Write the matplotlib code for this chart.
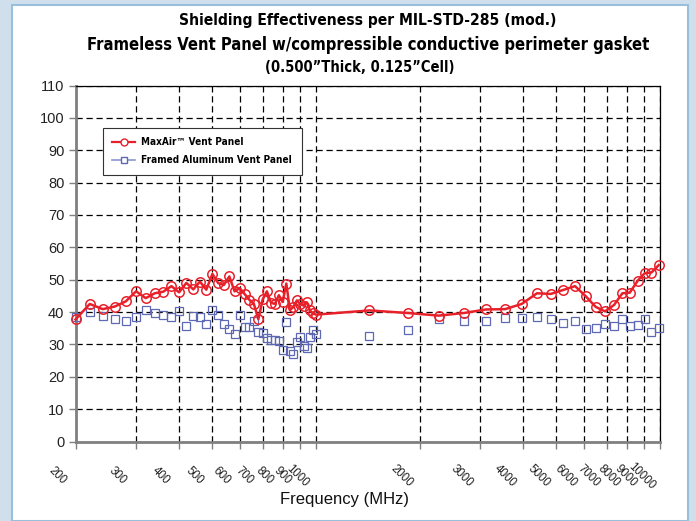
import numpy as np
import matplotlib
matplotlib.use('Agg')
import matplotlib.pyplot as plt
from matplotlib.lines import Line2D
from matplotlib.patches import Rectangle
from matplotlib.ticker import FixedLocator, NullFormatter

plt.rcParams['font.family'] = ['Liberation Sans', 'DejaVu Sans']

# frequencies (MHz)
freq_low = [200, 220, 240, 260, 280, 300, 320, 340, 360, 380, 400, 420, 440, 460,
            480, 500, 520, 540, 560, 580, 600, 620, 640, 660, 680, 700, 720, 740,
            760, 780, 800, 820, 840, 860, 880, 900, 920, 940, 960, 980, 1000]
freq_high = [1430, 1850, 2274, 2690, 3120, 3546, 3963, 4390, 4813, 5224, 5662,
             6082, 6503, 6921, 7354, 7774, 8169, 8616, 9031, 9441, 9915]

maxair_low = [37.7, 42.5, 40.9, 41.7, 43.3, 46.4, 44.3, 45.8, 46.3, 48.0, 46.1,
              49.0, 47.0, 49.4, 46.9, 51.8, 48.9, 48.4, 51.0, 46.4, 47.4, 45.6,
              43.8, 42.5, 37.8, 43.9, 46.4, 42.9, 42.5, 45.2, 43.1, 48.8, 40.6,
              41.6, 43.6, 42.5, 42.0, 43.0, 40.5, 39.6, 39.2]
maxair_high = [40.5, 39.7, 38.9, 39.7, 40.8, 40.9, 42.5, 45.8, 45.6, 46.8, 48.0,
               44.9, 41.6, 40.2, 42.2, 45.8, 46.0, 49.7, 52.0, 52.2, 54.5]

framed_low = [38.4, 40.0, 38.7, 38.0, 37.3, 38.6, 40.5, 39.7, 39.2, 38.4, 40.3,
              35.8, 38.9, 38.4, 36.2, 40.5, 39.2, 36.4, 34.7, 33.2, 39.2, 35.3,
              35.3, 37.2, 33.9, 33.5, 31.9, 31.4, 31.3, 31.0, 28.3, 36.8, 27.9,
              27.1, 30.8, 32.4, 29.5, 28.9, 32.4, 34.3, 33.2]
framed_high = [32.5, 34.3, 37.7, 37.2, 37.2, 38.1, 38.1, 38.6, 37.8, 36.6, 37.1,
               34.9, 35.2, 36.2, 35.7, 37.7, 35.7, 36.0, 37.8, 33.8, 35.2]

freq = freq_low + freq_high
maxair = maxair_low + maxair_high
framed = framed_low + framed_high

grid_freqs = [200, 300, 400, 500, 600, 700, 800, 900, 1000, 2000, 3000, 4000,
              5000, 6000, 7000, 8000, 9000, 10000]
yticks = list(range(0, 111, 10))

red = '#e8202a'
blue = '#5f68b2'

fig = plt.figure(figsize=(6.96, 5.21), dpi=100, facecolor='#cfe0ec')
fig.patches.append(Rectangle((12 / 696, 0), 676 / 696, 1 - 5 / 521,
                             transform=fig.transFigure, facecolor='white',
                             edgecolor='#98c0da', linewidth=1.5, zorder=-5))

ax = fig.add_axes([75.5 / 696, 1 - 441.5 / 521, 584.5 / 696, 356 / 521])
ax.set_zorder(2)
ax.set_facecolor('white')
ax.set_xscale('log')
ax.set_xlim(200, 10000)
ax.set_ylim(0, 110)

ax.plot(freq, maxair, color=red, lw=1.8, marker='o', ms=6.8, mfc='none',
        mec=red, mew=1.1, zorder=4, clip_on=False)
ax.plot(freq, framed, ls='none', marker='s', ms=5.2, mfc='none', mec=blue,
        mew=0.9, zorder=3, clip_on=False)

ax.xaxis.set_major_locator(FixedLocator(grid_freqs))
ax.xaxis.set_minor_locator(FixedLocator([]))
ax.xaxis.set_major_formatter(NullFormatter())
ax.set_yticks(yticks)
ax.tick_params(axis='x', direction='out', length=5, width=1, color='#808080')
ax.tick_params(axis='y', direction='out', length=5, width=1, color='#808080',
               labelsize=10.5, labelcolor='#222222', pad=3)

ax.grid(True, which='major', color='black', linestyle=(0, (5, 3)), lw=0.9)
ax.set_axisbelow(True)

for s in ['left', 'bottom']:
    ax.spines[s].set_color('#808080')
    ax.spines[s].set_linewidth(2)
for s in ['top', 'right']:
    ax.spines[s].set_color('black')
    ax.spines[s].set_linewidth(0.9)

for f in grid_freqs:
    ax.annotate(str(f), xy=(f, 0), xycoords=ax.get_xaxis_transform(),
                xytext=(-13, -25), textcoords='offset points', rotation=-45,
                ha='center', va='center', fontsize=8.3, color='#222222')

ax.text(0.461, -0.162, 'Frequency (MHz)', transform=ax.transAxes, ha='center',
        va='center', fontsize=12, color='#111111')

# condensed bold face for titles and legend
narrow = {'family': 'DejaVu Sans', 'stretch': 'condensed', 'weight': 'bold'}

handles = [Line2D([], [], color=red, lw=1.6, marker='o', ms=5, mfc='white', mec=red),
           Line2D([], [], color='#8c94cc', lw=1.2, marker='s', ms=4, mfc='white', mec=blue)]
leg = ax.legend(handles, ['MaxAir\u2122 Vent Panel', 'Framed Aluminum Vent Panel'],
                loc='upper left', bbox_to_anchor=(0.047, 0.882), borderaxespad=0,
                frameon=True, fancybox=False, edgecolor='#333333', framealpha=1,
                prop=dict(narrow, size=7.2),
                handlelength=2.3, handletextpad=0.6, borderpad=0.95, labelspacing=0.8)
leg.get_frame().set_linewidth(0.8)

cx = (75.5 + 660) / 2 / 696
fig.text(cx, 1 - 20 / 521, 'Shielding Effectiveness per MIL-STD-285 (mod.)',
         ha='center', va='center', fontsize=11.2, **narrow)
fig.text(cx, 1 - 45 / 521, 'Frameless Vent Panel w/compressible conductive perimeter gasket',
         ha='center', va='center', fontsize=11.9, **narrow)
fig.text(cx - 8 / 696, 1 - 67 / 521, '(0.500\u201dThick, 0.125\u201dCell)',
         ha='center', va='center', fontsize=10.5, **narrow)

fig.savefig('out.png', dpi=100, facecolor=fig.get_facecolor())
